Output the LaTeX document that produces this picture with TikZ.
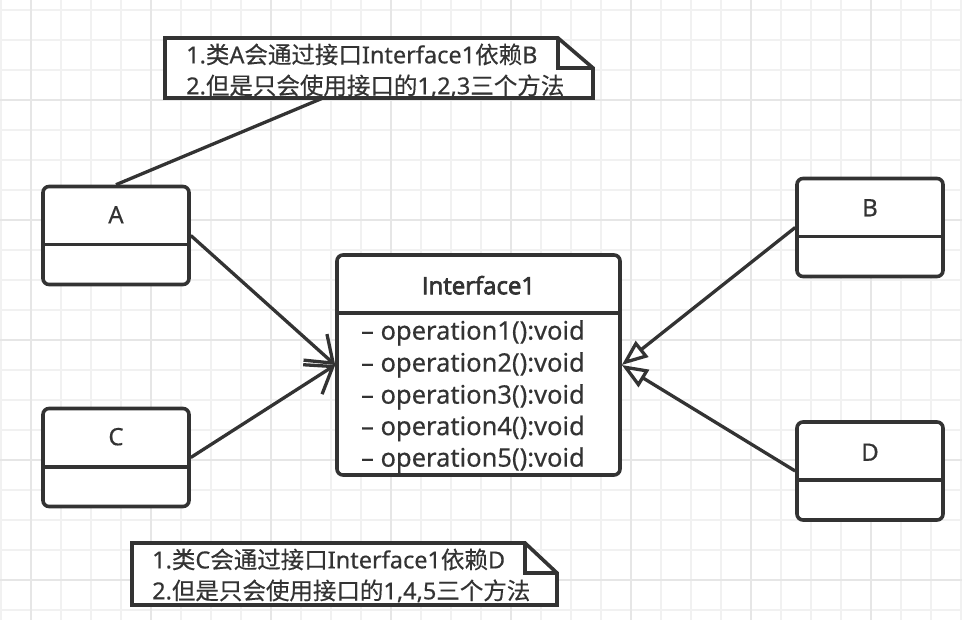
\documentclass[tikz,border=0pt]{standalone}
\usepackage{fontspec}
\usepackage{pdfrender}
\setmainfont{Noto Sans}[FakeBold=0.4]
\newfontfamily\cjk{Noto Sans CJK SC}[FakeBold=0.3]
\newfontfamily\titlefont{Open Sans}[AutoFakeBold=3]
\usetikzlibrary{arrows.meta}
\definecolor{ink}{HTML}{333333}
\definecolor{gridminor}{HTML}{F1F1F1}
\definecolor{gridmajor}{HTML}{E6E6E6}
\begin{document}
\begin{tikzpicture}[x=1pt,y=-1pt,
  cls/.style={draw=ink, line width=3.6pt, rounded corners=6pt, minimum width=146pt, minimum height=98pt, inner sep=0pt, fill=white},
  lbl/.style={text=ink, font=\fontsize{24}{28}\selectfont, inner sep=0pt},
  titletext/.style={text=ink, font=\titlefont\bfseries\fontsize{24}{28}\selectfont, inner sep=0pt},
  optext/.style={text=ink, font=\fontsize{25.5}{30}\selectfont, inner sep=0pt, anchor=west},
  notetext/.style={text=ink, font=\fontsize{23.5}{31}\selectfont, inner sep=0pt, anchor=west, align=left},
  divider/.style={draw=ink, line width=3.6pt},
  noteshape/.style={draw=ink, line width=3.6pt, fill=white, line join=miter},
  conn/.style={draw=ink, line width=3.3pt},
  minorgrid/.style={draw=gridminor, line width=1.5pt},
  majorgrid/.style={draw=gridmajor, line width=2pt}
]
\useasboundingbox (0,0) rectangle (962,620);
\fill[white] (0,0) rectangle (962,620);
% grid
\foreach \x in {1,31,...,961} \draw[minorgrid] (\x,0) -- (\x,620);
\foreach \y in {10,40,...,610} \draw[minorgrid] (0,\y) -- (962,\y);
\foreach \x in {31,151,...,871} \draw[majorgrid] (\x,0) -- (\x,620);
\foreach \y in {100,220,...,580} \draw[majorgrid] (0,\y) -- (962,\y);

% class boxes
\node[cls] (A) at (116,235.5) {};
\node[cls] (C) at (116,457.5) {};
\node[cls] (B) at (870,227.5) {};
\node[cls] (D) at (870,471) {};
\foreach \n in {A,C,B,D} {
  \draw[divider] ([yshift=-60pt]\n.north west) -- ([yshift=-60pt]\n.north east);
}
\node[lbl] (Alabel) at ([yshift=-30pt]A.north) {A};
\node[lbl] (Clabel) at ([yshift=-30pt]C.north) {C};
\node[lbl] (Blabel) at ([yshift=-31pt]B.north) {B};
\node[lbl] (Dlabel) at ([yshift=-32pt]D.north) {D};

% interface
\node[cls, minimum width=283pt, minimum height=220pt] (I) at (478.5,365) {};
\draw[divider] ([yshift=-60pt]I.north west) -- ([yshift=-60pt]I.north east);
\node[titletext] (Ititle) at ([yshift=-32pt]I.north) {\textpdfrender{TextRenderingMode=FillStroke,LineWidth=0.8pt}{Interface1}};
\node[optext] (op1) at (361,333) {– operation1():void};
\node[optext] (op2) at (361,365) {– operation2():void};
\node[optext] (op3) at (361,397) {– operation3():void};
\node[optext] (op4) at (361,428.5) {– operation4():void};
\node[optext] (op5) at (361,460) {– operation5():void};

% notes
\draw[noteshape] (165,38) -- (558,38) -- (593,68) -- (593,98) -- (165,98) -- cycle;
\draw[noteshape, fill=none] (558,38) -- (558,68) -- (593,68);
\node[notetext] (n1) at (186,70.5) {1.{\cjk 类}A{\cjk 会通过接口}Interface1{\cjk 依赖}B\\2.{\cjk 但是只会使用接口的}1,2,3{\cjk 三个方法}};
\coordinate (n1a) at (323,98);

\draw[noteshape] (132,543) -- (525,543) -- (557,573) -- (557,605) -- (132,605) -- cycle;
\draw[noteshape, fill=none] (525,543) -- (525,573) -- (557,573);
\node[notetext] (n2) at (152,575.5) {1.{\cjk 类}C{\cjk 会通过接口}Interface1{\cjk 依赖}D\\2.{\cjk 但是只会使用接口的}1,4,5{\cjk 三个方法}};

% connectors
\draw[conn] (n1a) -- (A.north);
\draw[conn, -{Straight Barb[length=24pt,width=35pt]}] (A.east) -- (I.west);
\draw[conn, -{Straight Barb[length=24pt,width=35pt]}] (C.east) -- (I.west);
\draw[conn, -{Triangle[open,length=26pt,width=20pt,fill=white]}] (B.west) -- (I.east);
\draw[conn, -{Triangle[open,length=26pt,width=20pt,fill=white]}] (D.west) -- (I.east);
\end{tikzpicture}
\end{document}
